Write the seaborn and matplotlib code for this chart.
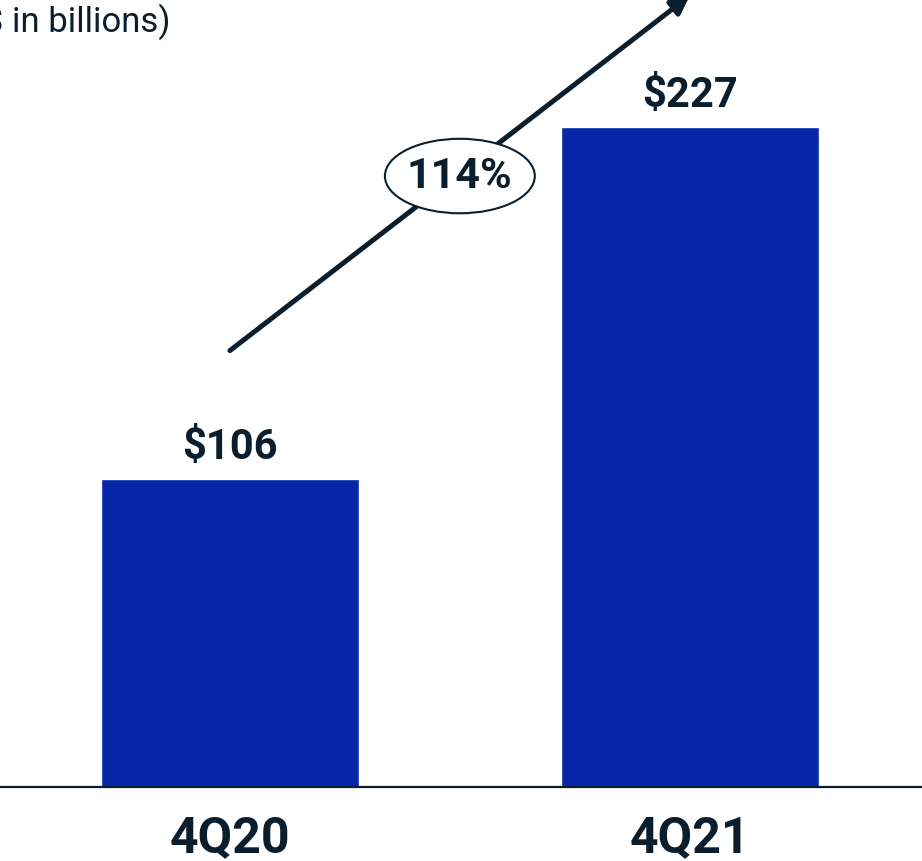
import matplotlib
matplotlib.use("Agg")
import matplotlib.pyplot as plt
import seaborn as sns
import pandas as pd
from matplotlib.patches import Ellipse

categories = ["4Q20", "4Q21"]
values = [106, 227]
value_labels = ["$106", "$227"]
growth_label = "114%"
title = "($ in billions)"

BAR = "#0527A8"
DARK = "#0B1E2D"

sns.set_theme(style="white")
plt.rcParams["font.family"] = ["Roboto", "DejaVu Sans"]

df = pd.DataFrame({"quarter": categories, "value": values})

fig = plt.figure(figsize=(9.22, 8.61), dpi=100)
ax = fig.add_axes([0, 74 / 861, 1, 787 / 861])

sns.barplot(data=df, x="quarter", y="value", color=BAR, saturation=1,
            width=0.56, ax=ax)

ax.set_xlim(-0.5, 1.505)
ax.set_ylim(0, 270.5)
ax.set_xlabel("")
ax.set_ylabel("")
ax.set_yticks([])
for s in ["top", "left", "right"]:
    ax.spines[s].set_visible(False)
ax.spines["bottom"].set_color(DARK)
ax.spines["bottom"].set_linewidth(1.6)
ax.tick_params(axis="x", length=0, pad=20, labelsize=36, labelcolor=DARK)
for lab in ax.get_xticklabels():
    lab.set_fontweight("bold")

for i, (v, t) in enumerate(zip(values, value_labels)):
    ax.annotate(t, (i, v), xytext=(0, 7.5), textcoords="offset points",
                ha="center", va="bottom", fontsize=30, fontweight="bold",
                color=DARK)

# growth arrow
ax.annotate("", xy=(1.0, values[1] + 45), xytext=(0.0, 150),
            arrowprops=dict(arrowstyle="-|>,head_length=0.9,head_width=0.45",
                            color=DARK, lw=3.6, shrinkA=0, shrinkB=0),
            annotation_clip=False, zorder=3)
ell = Ellipse((0.5, 210), width=0.326, height=25.6, facecolor="white",
              edgecolor=DARK, lw=1.5, zorder=4)
ax.add_patch(ell)
ax.text(0.5, 210, growth_label, ha="center", va="center", fontsize=31,
        fontweight="bold", color=DARK, zorder=5)

fig.text(170 / 922, 1 - 32 / 861, title, ha="right", va="baseline",
         fontsize=25, color=DARK)

fig.savefig("out.png", dpi=100)
